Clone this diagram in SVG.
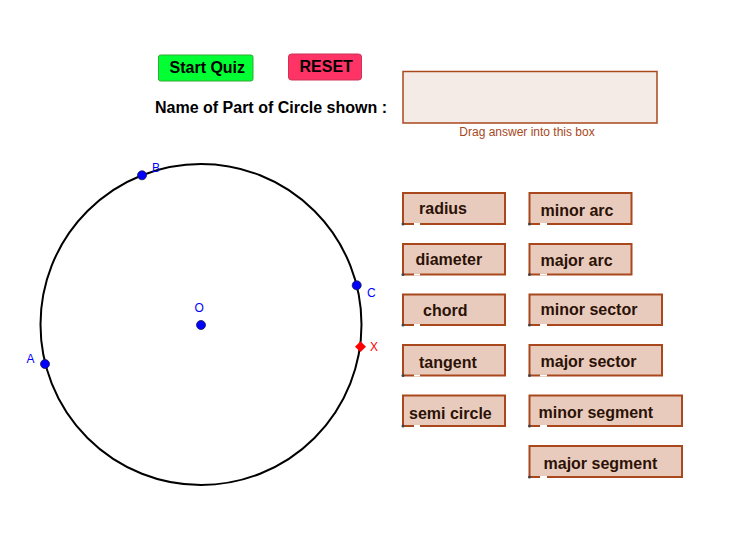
<svg xmlns="http://www.w3.org/2000/svg" width="756" height="542" viewBox="0 0 756 542">
<style>
.btnt{font-family:"Liberation Sans",Arial,sans-serif;font-weight:bold;font-size:16px;fill:#000}
.opt rect{fill:#e9cbbd;stroke:#a8481c;stroke-width:2}
.opt text{font-family:"Liberation Sans",Arial,sans-serif;font-weight:bold;font-size:16px;fill:#2b1206}
.opt circle{fill:#444}
.opt line{stroke:#fff;stroke-width:2}
.pt{fill:#0000ff;stroke:#1a1a4a;stroke-width:0.8}
.lbl{font-family:"Liberation Sans",Arial,sans-serif;font-size:12px;fill:#0000ff}
</style>
<rect width="756" height="542" fill="#fff"/>
<g id="start-quiz">
<rect x="158.5" y="55" width="94.5" height="26" rx="2" fill="#00ff33" stroke="#33aa33" stroke-width="1"/>
<text class="btnt" x="169.5" y="72.5">Start Quiz</text>
</g>
<g id="reset">
<rect x="288.5" y="54" width="73" height="26" rx="3" fill="#ff3366" stroke="#cc3355" stroke-width="1"/>
<text class="btnt" x="299.5" y="72">RESET</text>
</g>
<g id="question">
<text class="btnt" x="155" y="112.5">Name of Part of Circle shown :</text>
</g>
<g id="answer-box">
<rect x="403" y="71.5" width="254" height="51.5" fill="#f4ebe6" stroke="#a8481c" stroke-width="1.5"/>
<text x="527" y="135.5" text-anchor="middle" font-family="Liberation Sans,Arial,sans-serif" font-size="12" fill="#a8481c">Drag answer into this box</text>
</g>
<g id="circle-figure">
<circle cx="201" cy="324.5" r="160.5" fill="none" stroke="#000" stroke-width="2"/>
</g>
<g id="point-O"><circle class="pt" cx="201" cy="325" r="4.5"/><text class="lbl" x="194.5" y="312">O</text></g>
<g id="point-B"><circle class="pt" cx="142" cy="175.3" r="4.5"/><text class="lbl" x="152" y="171.5">B</text></g>
<g id="point-C"><circle class="pt" cx="356.7" cy="285.3" r="4.5"/><text class="lbl" x="367" y="297">C</text></g>
<g id="point-A"><circle class="pt" cx="45" cy="364" r="4.5"/><text class="lbl" x="26.5" y="363">A</text></g>
<g id="point-X"><polygon points="360.5,341.3 366,346.7 360.5,352.1 355,346.7" fill="#ff0000"/><text x="370" y="351" font-family="Liberation Sans,Arial,sans-serif" font-size="12" fill="#ff0000">X</text></g>
<g id="connectors"></g>
<g id="opt-radius" class="opt"><rect x="403" y="193" width="102" height="31"/><line x1="414" y1="224" x2="420" y2="224"/><circle cx="403" cy="224" r="1.5"/><text x="419" y="213.5">radius</text></g>
<g id="opt-diameter" class="opt"><rect x="403" y="244" width="102" height="30.5"/><line x1="414" y1="274.5" x2="420" y2="274.5"/><circle cx="403" cy="274.5" r="1.5"/><text x="415.5" y="264.5">diameter</text></g>
<g id="opt-chord" class="opt"><rect x="403" y="294.5" width="102" height="30.5"/><line x1="414" y1="325" x2="420" y2="325"/><circle cx="403" cy="325" r="1.5"/><text x="423" y="315.5">chord</text></g>
<g id="opt-tangent" class="opt"><rect x="403" y="345" width="102" height="30.5"/><line x1="414" y1="375.5" x2="420" y2="375.5"/><circle cx="403" cy="375.5" r="1.5"/><text x="419" y="367.5">tangent</text></g>
<g id="opt-semi-circle" class="opt"><rect x="403" y="395.5" width="102" height="30.5"/><line x1="414" y1="426" x2="420" y2="426"/><circle cx="403" cy="426" r="1.5"/><text x="409" y="418.5">semi circle</text></g>
<g id="opt-minor-arc" class="opt"><rect x="529.5" y="193" width="102" height="31"/><line x1="540" y1="224" x2="547" y2="224"/><circle cx="529.5" cy="224" r="1.5"/><text x="540.5" y="216">minor arc</text></g>
<g id="opt-major-arc" class="opt"><rect x="529.5" y="244" width="102" height="30.5"/><line x1="540" y1="274.5" x2="547" y2="274.5"/><circle cx="529.5" cy="274.5" r="1.5"/><text x="540.5" y="266">major arc</text></g>
<g id="opt-minor-sector" class="opt"><rect x="529.5" y="294.5" width="132.5" height="30.5"/><line x1="540" y1="325" x2="547" y2="325"/><circle cx="529.5" cy="325" r="1.5"/><text x="540.5" y="315">minor sector</text></g>
<g id="opt-major-sector" class="opt"><rect x="529.5" y="345" width="132.5" height="30.5"/><line x1="540" y1="375.5" x2="547" y2="375.5"/><circle cx="529.5" cy="375.5" r="1.5"/><text x="540.5" y="367">major sector</text></g>
<g id="opt-minor-segment" class="opt"><rect x="529.5" y="395.5" width="152.5" height="30.5"/><line x1="540" y1="426" x2="547" y2="426"/><circle cx="529.5" cy="426" r="1.5"/><text x="538.5" y="418">minor segment</text></g>
<g id="opt-major-segment" class="opt"><rect x="529.5" y="446" width="152.5" height="31"/><line x1="540" y1="477" x2="547" y2="477"/><circle cx="529.5" cy="477" r="1.5"/><text x="543.5" y="469">major segment</text></g>
</svg>
